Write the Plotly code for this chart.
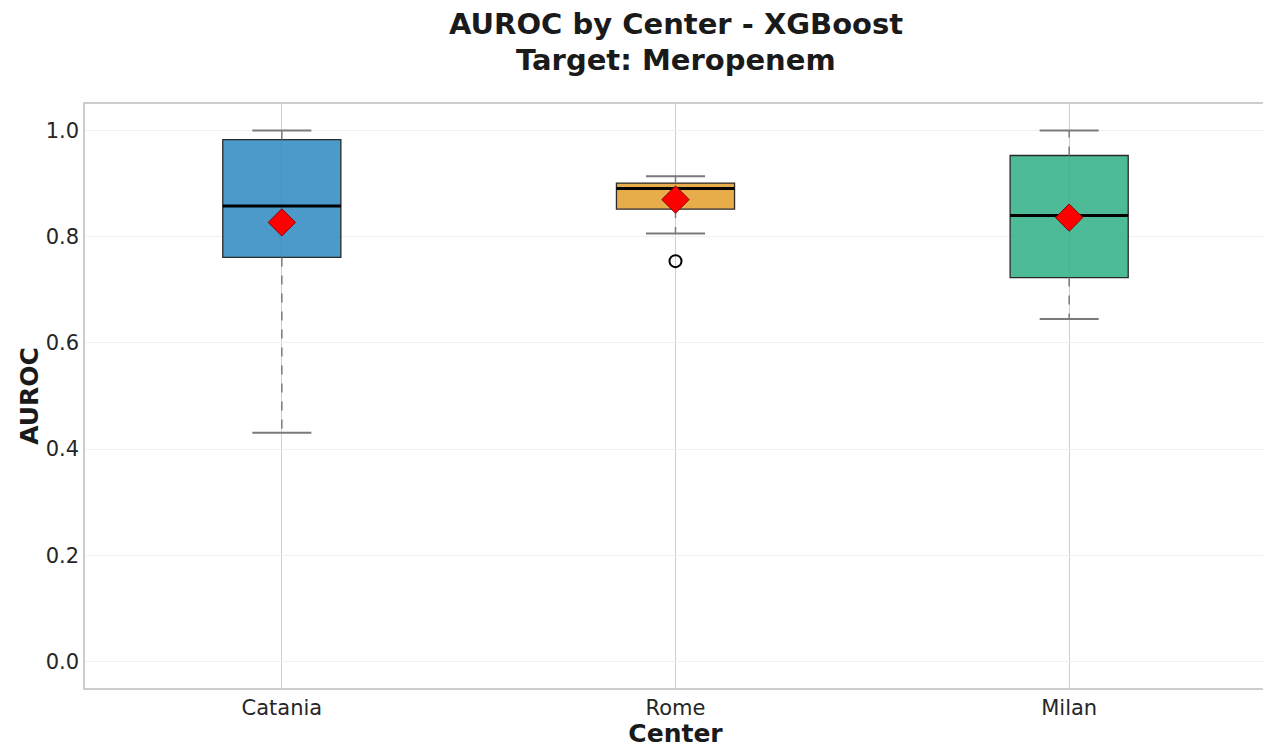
import plotly.graph_objects as go

centers = ["Catania", "Rome", "Milan"]
q1 = [0.761, 0.852, 0.723]
median = [0.858, 0.891, 0.840]
q3 = [0.983, 0.901, 0.953]
lower_whisker = [0.431, 0.806, 0.645]
upper_whisker = [1.000, 0.914, 1.000]
means = [0.827, 0.870, 0.836]
outlier_center = [1]
outlier_value = [0.754]
title_lines = ["AUROC by Center - XGBoost", "Target: Meropenem"]

fills = ["rgba(44,136,192,0.85)", "rgba(228,159,44,0.85)", "rgba(46,175,134,0.85)"]
box_w = 0.3
cap_w = 0.15
whisker_color = "#7a7a7a"

fig = go.Figure()
xs = list(range(len(centers)))
for i in xs:
    fig.add_trace(go.Scatter(x=[i, i, None, i, i], y=[q1[i], lower_whisker[i], None, q3[i], upper_whisker[i]],
                             mode="lines", line=dict(color=whisker_color, width=1.5, dash="dash"),
                             showlegend=False, hoverinfo="skip"))
    fig.add_trace(go.Scatter(x=[i - cap_w / 2, i + cap_w / 2, None, i - cap_w / 2, i + cap_w / 2],
                             y=[lower_whisker[i], lower_whisker[i], None, upper_whisker[i], upper_whisker[i]],
                             mode="lines", line=dict(color=whisker_color, width=2),
                             showlegend=False, hoverinfo="skip"))
    fig.add_trace(go.Box(x=[i], q1=[q1[i]], median=[median[i]], q3=[q3[i]],
                         lowerfence=[q1[i]], upperfence=[q3[i]], width=box_w, whiskerwidth=0,
                         fillcolor=fills[i], line=dict(color="#2a2a2a", width=1.3),
                         showlegend=False, name=centers[i]))
    fig.add_trace(go.Scatter(x=[i - box_w / 2, i + box_w / 2], y=[median[i], median[i]],
                             mode="lines", line=dict(color="black", width=3),
                             showlegend=False, hoverinfo="skip"))

fig.add_trace(go.Scatter(x=outlier_center, y=outlier_value, mode="markers",
                         marker=dict(symbol="circle-open", size=12, color="black", line=dict(width=2)),
                         showlegend=False))
fig.add_trace(go.Scatter(x=xs, y=means, mode="markers",
                         marker=dict(symbol="diamond", size=21, color="red", line=dict(color="#8b0000", width=1)),
                         showlegend=False))

fig.update_layout(
    width=1263, height=740,
    margin=dict(l=77, r=3, t=96, b=60),
    paper_bgcolor="white", plot_bgcolor="white",
    font=dict(family="DejaVu Sans", color="#262626"),
    annotations=[dict(text="<b>" + t + "</b>", xref="paper", yref="paper", x=0.5, y=1,
                      xanchor="center", yanchor="middle", yshift=s, showarrow=False,
                      font=dict(size=29, color="#1a1a1a"))
                 for t, s in zip(title_lines, [80, 44])],
)
fig.update_xaxes(range=[-0.5, 2.5], tickvals=xs, ticktext=centers, tickfont=dict(size=21),
                 showgrid=True, gridcolor="#cfcfcf", gridwidth=1.2, zeroline=False,
                 showline=True, linecolor="#cccccc", linewidth=1.5, mirror=True,
                 title=dict(text="<b>Center</b>", font=dict(size=25, color="#1a1a1a"), standoff=4))
fig.update_yaxes(range=[-0.05, 1.05], tickvals=[0, 0.2, 0.4, 0.6, 0.8, 1.0], tickformat=".1f",
                 tickfont=dict(size=21), showgrid=True, gridcolor="#f0f0f0", zeroline=False,
                 showline=True, linecolor="#cccccc", linewidth=1.5, mirror=True,
                 title=dict(text="<b>AUROC</b>", font=dict(size=25, color="#1a1a1a"), standoff=0))

fig.write_html("out.html")
